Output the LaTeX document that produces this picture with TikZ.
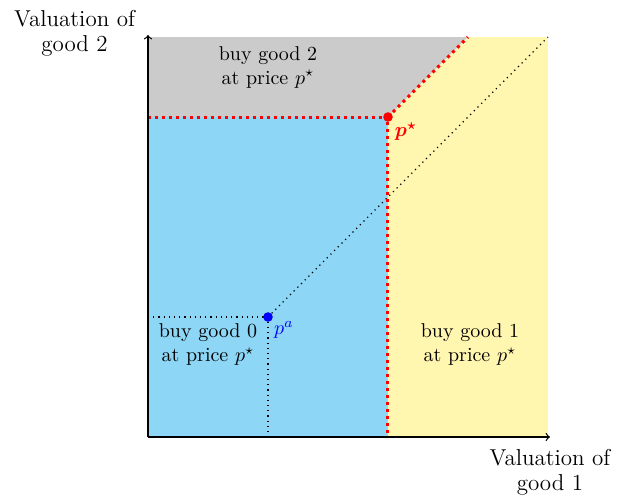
\documentclass[tikz,border=0pt]{standalone}
\usepackage{amsmath,amssymb,bm}
\definecolor{regblue}{RGB}{141,214,245}
\definecolor{regyellow}{RGB}{255,246,176}
\definecolor{reggray}{RGB}{203,203,203}
\begin{document}
\begin{tikzpicture}[x=0.5pt,y=0.5pt,
  inlabel/.style={align=center,font=\fontsize{10}{12}\selectfont},
  axlabel/.style={align=center,font=\fontsize{11.5}{12.5}\selectfont},
  redline/.style={red,line width=1.5pt,dotted},
  blackdots/.style={black,semithick,dotted},
  axisline/.style={->,semithick}]
\useasboundingbox (-148,-58) rectangle (470,437);
% regions
\fill[reggray] (0,320) -- (240,320) -- (320,400) -- (0,400) -- cycle;
\fill[regblue] (0,0) -- (240,0) -- (240,320) -- (0,320) -- cycle;
\fill[regyellow] (240,0) -- (400,0) -- (400,400) -- (320,400) -- (240,320) -- cycle;
% points
\coordinate (O) at (0,0);
\coordinate (ps) at (240,320);
\coordinate (pa) at (120,120);
\coordinate (pax) at (120,0);
\coordinate (pay) at (0,120);
\coordinate (psy) at (0,320);
\coordinate (psx) at (240,0);
\coordinate (pstop) at (320,400);
\coordinate (corner) at (400,400);
% dotted lines
\draw[blackdots] (pay) -- (pa) -- (pax);
\draw[blackdots] (pa) -- (corner);
\draw[redline] (psy) -- (ps) -- (psx);
\draw[redline] (ps) -- (pstop);
% axes
\coordinate (xend) at (402,0);
\coordinate (yend) at (0,402);
\draw[axisline] (O) -- (xend);
\draw[axisline] (O) -- (yend);
% dots
\fill[red] (ps) circle (2.4pt);
\fill[blue] (pa) circle (2.4pt);
% labels
\node[red] (lps) at (258,305) {$\bm{p^\star}$};
\node[blue] (lpa) at (136,107) {$p^a$};
\node[inlabel] (g2) at (120,370) {buy good 2\\at price $p^\star$};
\node[inlabel] (g0) at (60,92) {buy good 0\\at price $p^\star$};
\node[inlabel] (g1) at (322,92) {buy good 1\\at price $p^\star$};
\node[axlabel,anchor=east] (ly) at (-6,404) {Valuation of\\good 2};
\node[axlabel,anchor=north] (lx) at (402,-5) {Valuation of\\good 1};
\end{tikzpicture}
\end{document}
